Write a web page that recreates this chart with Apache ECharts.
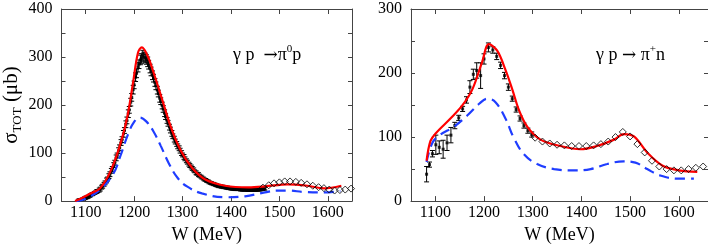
<!DOCTYPE html>
<html>
<head>
<meta charset="utf-8">
<script src="https://cdn.jsdelivr.net/npm/echarts@6/dist/echarts.min.js"></script>
<style>html,body{margin:0;padding:0;background:#fff}#c{width:708px;height:249px}</style>
</head>
<body>
<div id="c"></div>
<script>
// ---------- Tick labels ----------
const xTickLabels = [1100, 1200, 1300, 1400, 1500, 1600];
const yLeftLabels = [0, 100, 200, 300, 400];
const yLeftTicks = [0, 50, 100, 150, 200, 250, 300, 350, 400];
const yRightLabels = [0, 100, 200, 300];
const yRightTicks = [0, 50, 100, 150, 200, 250, 300];

// ---------- Left panel: gamma p -> pi0 p ----------
const dataLeftW = [1085,1090,1095,1100,1105,1110,1115,1120,1125,1130,1135,1140,1145,1150,1155,1160,1165,1170,1175,1180,1185,1190,1195,1200,1205,1210,1215,1220,1225,1230,1235,1240,1245,1250,1255,1260,1265,1270,1275,1280,1285,1290,1295,1300,1305,1310,1315,1320,1325,1330,1335,1340,1345,1350,1355,1360,1365,1370,1375,1380,1385,1390,1395,1400,1405,1410,1415,1420,1425,1430,1435,1440,1445,1450,1455,1460,1465,1470];
const dataLeftS = [2,3,5,7,9,12,15,18,21,25,31,38,46,56,67,80,95,111,128,147,168,190,216,242,266,285,297,300,295,284,270,256,240,224,208,192,176,162,148,135,124,114,105,96,88,81,74,68,62,57,53,49,45,42,39,37,35,33,31,30,29,28,27,26,26,25,25,24,24,24,23,23,23,23,24,24,25,26];
const dataLeftE = [2,2,2,3,3,3,3,3,3,4,4,4,4,5,5,5,5,6,6,6,7,7,8,8,9,9,10,10,10,9,9,8,8,7,7,7,6,6,6,5,5,5,5,4,4,4,4,4,3,3,3,3,3,3,3,3,3,3,3,3,3,3,3,3,3,3,3,3,3,3,3,3,3,3,3,3,3,3];
const data2LeftW = [1088,1093,1098,1103,1108,1113,1118,1123,1128,1133,1138,1143,1148,1153,1158,1163,1168,1173,1178,1183,1188,1193,1198,1203,1208,1213,1218,1223,1228,1233,1238,1243,1248,1253,1258,1263,1268,1273,1278,1283,1288,1293,1298,1303,1308,1313,1318,1323,1328,1333,1338,1343,1348,1353,1358,1363,1368,1373,1378,1383,1388,1393,1398,1403,1408,1413,1418,1423,1428,1433,1438,1443,1448,1453,1458,1463,1468];
const data2LeftS = [3,4,6,8,11,14,17,20,23,29,35,43,52,63,75,90,105,122,140,160,182,206,232,258,279,294,303,298,290,276,262,247,231,214,199,183,168,154,141,129,119,110,100,92,84,77,71,65,59,55,51,47,44,41,38,36,34,32,31,30,29,28,27,26,25,25,25,24,24,24,23,23,24,24,24,25,26];
const data2LeftE = [2,2,3,3,3,3,3,4,4,4,4,5,5,5,5,6,6,6,7,7,8,8,9,9,10,10,11,10,10,9,9,8,8,8,7,7,6,6,6,6,5,5,5,5,4,4,4,4,4,4,3,3,3,3,3,3,3,3,3,3,3,3,3,3,3,3,3,3,3,3,3,3,3,3,3,3,3];
const diaLeftW = [1466,1478,1489,1500,1511,1522,1534,1545,1557,1569,1581,1592,1603,1614,1625,1636,1648];
const diaLeftS = [28,33,37,39,41,41,40,38,35,32,29,27,24,22,23,24,26];
const redLeftW = [1078,1095,1110,1130,1153,1174,1187,1198,1208,1216,1228,1242,1259,1276,1296,1320,1347,1388,1436,1470,1517,1558,1592,1628];
const redLeftS = [0,8,16,27,66,127,181,248,309,320,302,262,208,154,106,69,45,32,28.5,30.5,35,32,26.4,32];
const blueLeftW = [1080,1100,1130,1157,1172,1187,1200,1212,1225,1240,1255,1272,1290,1310,1340,1388,1429,1470,1495,1517,1551,1592,1626];
const blueLeftS = [0,5,24,57,95,138,165,174,166,145,115,78,48,30,16,8,10,18,22,22,19,18,21];

// ---------- Right panel: gamma p -> pi+ n ----------
const dataRightW = [1082,1088,1094,1101,1108,1116,1124,1132,1140,1148,1156,1164,1171,1178,1185,1193,1200,1209,1218,1226,1234,1242,1250,1258,1266,1274,1282,1290,1298];
const dataRightS = [42,57,74,88,84,81,91,103,118,130,144,158,178,198,204,196,222,240,236,226,212,196,178,160,143,129,118,110,104];
const dataRightE = [12,4,5,15,10,14,12,12,5,4,4,5,10,8,12,20,8,7,5,5,5,5,5,4,4,4,4,4,4];
const diaRightW = [1305,1320,1335,1350,1365,1380,1395,1410,1425,1440,1455,1470,1485,1500,1515,1530,1545,1560,1575,1590,1605,1620,1635,1650];
const diaRightS = [99,93,90,88,87,86,86,86,87,89,93,100,108,101,89,76,63,54,50,48,48,50,52,54];
const redRightW = [1082,1090,1101,1131,1155,1176,1196,1210,1227,1244,1258,1272,1289,1316,1357,1398,1432,1467,1487,1508,1535,1566,1600,1638];
const redRightS = [63,94,106,129,149,174.5,217,245,235,205,174.5,141.6,116,96,86,81,86,96,104.7,101,76,55.7,48,45.5];
const blueRightW = [1082,1094,1111,1138,1166,1190,1207,1224,1244,1261,1282,1309,1344,1385,1419,1453,1487,1511,1535,1562,1597,1631];
const blueRightS = [61,91,104,116,134,152,160,154,129,99,73,58,50,48,50,58,62,60,50,40,35,35];

// ---------- helpers ----------
const zip = (a, b) => a.map((v, i) => [v, b[i]]);
const zip3 = (a, b, c) => a.map((v, i) => [v, b[i], c[i]]);
const FONT = 'Liberation Serif';
const AX = '#444';

function errRender(params, api) {
  const x = api.value(0), y = api.value(1), e = api.value(2);
  const t = api.coord([x, y + e]);
  const b = api.coord([x, y - e]);
  const hw = 2.5;
  const st = { stroke: '#000', lineWidth: 1 };
  return {
    type: 'group',
    children: [
      { type: 'line', shape: { x1: t[0], y1: t[1], x2: b[0], y2: b[1] }, style: st },
      { type: 'line', shape: { x1: t[0] - hw, y1: t[1], x2: t[0] + hw, y2: t[1] }, style: st },
      { type: 'line', shape: { x1: b[0] - hw, y1: b[1], x2: b[0] + hw, y2: b[1] }, style: st }
    ]
  };
}

const plainNum = v => String(v);

function xAxes(grid, max, name) {
  return [
    {
      gridIndex: grid, type: 'value', min: 1050, max: max, position: 'bottom',
      name: name, nameLocation: 'middle', nameGap: 22,
      nameTextStyle: { fontFamily: FONT, fontSize: 18, color: '#000' },
      axisLine: { show: true, onZero: false, lineStyle: { color: AX, width: 1 } },
      axisTick: { show: true, inside: true, length: 5, customValues: xTickLabels, lineStyle: { color: AX } },
      axisLabel: { show: true, customValues: xTickLabels, formatter: plainNum, margin: 4, fontFamily: FONT, fontSize: 16, color: '#000' },
      splitLine: { show: false }
    },
    {
      gridIndex: grid, type: 'value', min: 1050, max: max, position: 'top',
      axisLine: { show: true, onZero: false, lineStyle: { color: AX, width: 1 } },
      axisTick: { show: true, inside: true, length: 5, customValues: xTickLabels, lineStyle: { color: AX } },
      axisLabel: { show: false },
      splitLine: { show: false }
    }
  ];
}

function yAxes(grid, max, labels, ticks, name) {
  const base = {
    gridIndex: grid, type: 'value', min: 0, max: max,
    splitLine: { show: false }
  };
  return [
    Object.assign({}, base, {
      position: 'left',
      name: name || '', nameLocation: 'middle', nameGap: 37,
      nameTextStyle: {
        fontFamily: FONT, color: '#000',
        rich: {
          a: { fontFamily: FONT, fontSize: 21, lineHeight: 26, verticalAlign: 'middle', color: '#000' },
          s: { fontFamily: FONT, fontSize: 13, lineHeight: 26, verticalAlign: 'bottom', color: '#000' }
        }
      },
      axisLine: { show: true, onZero: false, lineStyle: { color: AX, width: 1 } },
      axisTick: { show: true, inside: true, length: 4, customValues: ticks, lineStyle: { color: AX } },
      axisLabel: { show: true, customValues: labels, formatter: plainNum, margin: 9, fontFamily: FONT, fontSize: 16, color: '#000' }
    }),
    Object.assign({}, base, {
      position: 'right',
      axisLine: { show: true, onZero: false, lineStyle: { color: AX, width: 1 } },
      axisTick: { show: true, inside: true, length: 4, customValues: ticks, lineStyle: { color: AX } },
      axisLabel: { show: false }
    })
  ];
}

function dataSeries(xi, yi, dW, dS, dE) {
  return [
    { type: 'custom', xAxisIndex: xi, yAxisIndex: yi, renderItem: errRender, data: zip3(dW, dS, dE), encode: { x: 0, y: 1 }, clip: true, z: 2 },
    { type: 'scatter', xAxisIndex: xi, yAxisIndex: yi, data: zip(dW, dS), symbol: 'rect', symbolSize: 3, itemStyle: { color: '#000' }, z: 3, silent: true }
  ];
}

function curveSeries(xi, yi, diaW, diaS, blueW, blueS, redW, redS) {
  return [
    { type: 'line', xAxisIndex: xi, yAxisIndex: yi, data: zip(blueW, blueS), showSymbol: false, smooth: 0.4,
      lineStyle: { color: '#1f3dff', width: 2.2, type: [10, 6] }, z: 4 },
    { type: 'line', xAxisIndex: xi, yAxisIndex: yi, data: zip(redW, redS), showSymbol: false, smooth: 0.35,
      lineStyle: { color: '#ff0000', width: 2.2 }, z: 5 },
    { type: 'scatter', xAxisIndex: xi, yAxisIndex: yi, data: zip(diaW, diaS), symbol: 'diamond', symbolSize: 7,
      itemStyle: { color: 'rgba(255,255,255,0)', borderColor: '#000', borderWidth: 1 }, z: 6, clip: false }
  ];
}

const richAnno = {
  g: { fontFamily: FONT, fontSize: 18, lineHeight: 20, verticalAlign: 'bottom', fill: '#000' },
  r: { fontFamily: 'DejaVu Serif', fontSize: 17, lineHeight: 20, verticalAlign: 'bottom', fill: '#000' },
  u: { fontFamily: FONT, fontSize: 11, lineHeight: 16, verticalAlign: 'top', fill: '#000' }
};

const chart = echarts.init(document.getElementById('c'), null, { renderer: 'canvas' });
const option = {
  animation: false,
  backgroundColor: '#fff',
  textStyle: { fontFamily: FONT },
  grid: [
    { left: 61, top: 9, width: 291, height: 197 },
    { left: 411, top: 9, width: 297, height: 196 }
  ],
  xAxis: [].concat(xAxes(0, 1650, 'W (MeV)'), xAxes(1, 1660, 'W (MeV)')),
  yAxis: [].concat(
    yAxes(0, 400, yLeftLabels, yLeftTicks, '{a|σ}{s|TOT}{a| (μb)}'),
    yAxes(1, 300, yRightLabels, yRightTicks, '')
  ),
  series: [].concat(
    dataSeries(0, 0, dataLeftW, dataLeftS, dataLeftE),
    dataSeries(0, 0, data2LeftW, data2LeftS, data2LeftE),
    curveSeries(0, 0, diaLeftW, diaLeftS, blueLeftW, blueLeftS, redLeftW, redLeftS),
    dataSeries(2, 2, dataRightW, dataRightS, dataRightE),
    curveSeries(2, 2, diaRightW, diaRightS, blueRightW, blueRightS, redRightW, redRightS)
  ),
  graphic: [
    {
      type: 'text', left: 233, top: 44, z: 10,
      style: { text: '{g|γ p  }{r|→}{g|π}{u|0}{g|p}', rich: richAnno }
    },
    {
      type: 'text', left: 596, top: 44, z: 10,
      style: { text: '{g|γ p }{r|→}{g| π}{u|+}{g|n}', rich: richAnno }
    }
  ]
};
chart.setOption(option);
</script>
</body>
</html>
